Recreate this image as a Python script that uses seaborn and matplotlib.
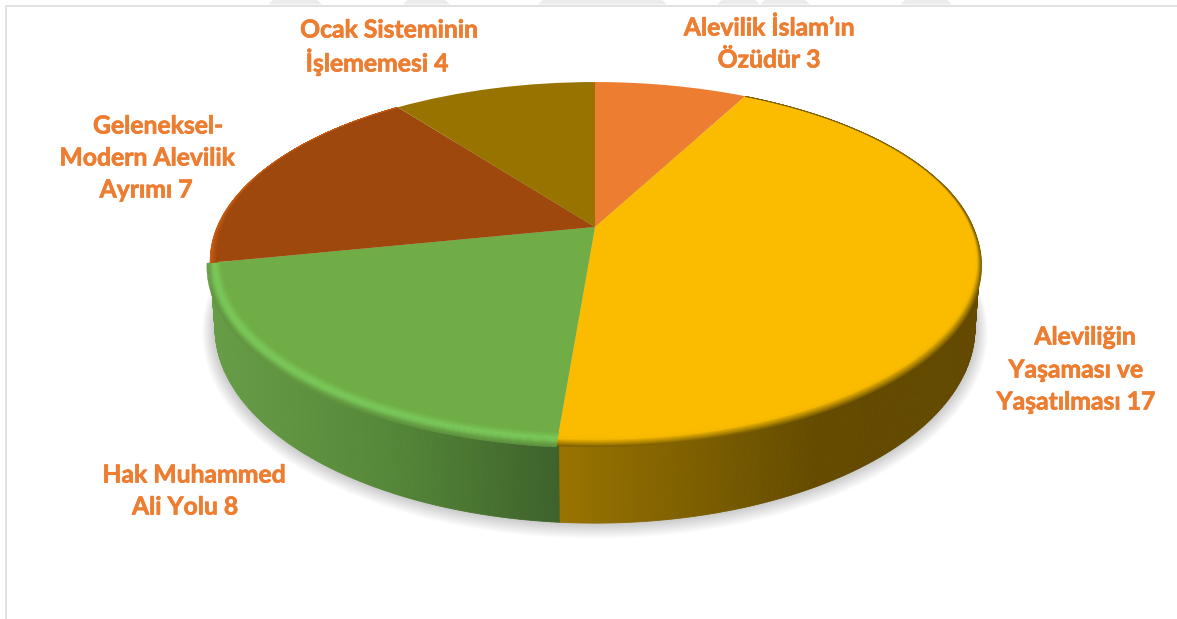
import numpy as np
import matplotlib
matplotlib.use("Agg")
import matplotlib.pyplot as plt
import matplotlib.patheffects as pe
import seaborn as sns
from matplotlib.colors import LinearSegmentedColormap, to_rgb
from matplotlib.transforms import Transform

names = ["Alevilik İslam’ın Özüdür", "Aleviliğin Yaşaması ve Yaşatılması",
         "Hak Muhammed Ali Yolu", "Geleneksel-Modern Alevilik Ayrımı",
         "Ocak Sisteminin İşlememesi"]
values = [3, 17, 8, 7, 4]
label_lines = [
    ["Alevilik İslam’ın", "Özüdür 3"],
    ["Aleviliğin", "Yaşaması ve", "Yaşatılması 17"],
    ["Hak Muhammed", "Ali Yolu 8"],
    ["Geleneksel-", "Modern Alevilik", "Ayrımı 7"],
    ["Ocak Sisteminin", "İşlememesi 4"],
]
label_pos = [
    [(769, 28), (769, 60)],
    [(1085, 337), (1076, 370), (1076, 402)],
    [(194, 475), (185, 507)],
    [(158, 126), (147, 158), (146, 190)],
    [(389, 30), (377, 62)],
]
colors = ["#ed7d31", "#fbbc00", "#70ad47", "#9e480e", "#997300"]


class Tilt(Transform):
    # unit pie -> image pixels, with the perspective of the 3d chart
    input_dims = 2
    output_dims = 2

    def __init__(self, x0, y0, ax_, by, c):
        super().__init__()
        self.p = (x0, y0, ax_, by, c)

    def transform_non_affine(self, values):
        x0, y0, a, b, c = self.p
        values = np.asarray(values, dtype=float)
        u, v = values[:, 0], values[:, 1]
        f = 1 / (1 + c * v)
        return np.column_stack([x0 + a * u * f, y0 - b * v * f])


sns.set_theme(style="white")
palette = sns.color_palette(colors)

fig = plt.figure(figsize=(11.77, 6.19), dpi=100)
ax = fig.add_axes([0, 0, 1, 1])

top = Tilt(595, 227, 378, 172.5, 0.19)
bottom = Tilt(595, 291, 373, 188, 0.19)

wedges, _ = ax.pie(values, colors=palette, startangle=90, counterclock=False, radius=1)
ax.set_aspect("auto")
ax.set_xlim(0, 1177)
ax.set_ylim(619, 0)
ax.axis("off")

top_tr = top + ax.transData
for w in wedges:
    w.set_transform(top_tr)
    w.set_zorder(5)
    w.set_linewidth(0)

# page frame and the watermark stripes above it
ax.fill_between([5, 1177], 4.5, 6.5, color="#e2e2e2", lw=0, zorder=1)
ax.fill_between([5, 7], 4.5, 619, color="#e2e2e2", lw=0, zorder=1)
for x1, x2 in [(268, 322), (403, 450), (538, 667), (717, 760), (760, 810), (900, 952)]:
    ax.fill([x1 + 5, x2 - 5, x2, x1], [0, 0, 4.5, 4.5], color="#ececec", lw=0, zorder=1)


def ring(theta):
    return np.cos(np.radians(theta)), np.sin(np.radians(theta))


# soft shadow under the body
th = np.linspace(0, 360, 241)
u, v = ring(th)
for k in np.linspace(1, 0, 14):
    xy = bottom.transform(np.column_stack([u, v]))
    cx = 595
    xs = cx + (xy[:, 0] - cx) * (1 + 0.034 * k)
    ys = 300 + (xy[:, 1] - 300) * (1 + 0.055 * k) + 3 * k
    ax.fill(xs, ys, color="black", alpha=0.016, lw=0, zorder=2)

# side wall, shaded left to right
wall_green = LinearSegmentedColormap.from_list(
    "g", [(0, "#679c47"), (0.5, "#558838"), (1, "#3e622b")])
wall_yellow = LinearSegmentedColormap.from_list(
    "y", [(0, "#9a7400"), (0.4, "#7d5f00"), (0.75, "#654b00"), (1, "#634a00")])
wall_style = {1: (wall_yellow, 557, 900), 2: (wall_green, 215, 557)}

for idx, (cmap, xa, xb) in wall_style.items():
    w = wedges[idx]
    t = np.arange(w.theta1, w.theta2 + 0.5, 0.5)
    t = t[np.sin(np.radians(t)) < 0.25]
    uu, vv = ring(t)
    a = top.transform(np.column_stack([uu, vv]))
    b = bottom.transform(np.column_stack([uu, vv]))
    for i in range(len(t) - 1):
        xm = a[i, 0]
        col = cmap(np.clip((xm - xa) / (xb - xa), 0, 1))
        ax.fill([a[i, 0], a[i + 1, 0], b[i + 1, 0], b[i, 0]],
                [a[i, 1], a[i + 1, 1], b[i + 1, 1], b[i, 1]],
                color=col, lw=0.6, zorder=3)


def mix(c1, c2, f):
    c1, c2 = np.array(to_rgb(c1)), np.array(to_rgb(c2))
    return tuple(c1 + (c2 - c1) * f)


def bevel(w, stops, w_in, w_out, back=1.0):
    # bands across the rim, they reach further out towards the viewer
    t = np.linspace(w.theta1, w.theta2, 200)
    uu, vv = ring(t)
    front = np.clip(-vv, 0, 1)
    fade = back + (1 - back) * np.clip(0.5 - 0.9 * vv, 0, 1)
    inner = 1 - w_in * fade
    outer = 1 + (w_out[0] + w_out[1] * front) * fade
    n = 16
    pos = [s[0] for s in stops]
    for j in range(n):
        f0, f1 = j / n, (j + 1) / n
        fm = (f0 + f1) / 2
        k = np.searchsorted(pos, fm) - 1
        k = min(max(k, 0), len(stops) - 2)
        col = mix(stops[k][1], stops[k + 1][1], (fm - pos[k]) / (pos[k + 1] - pos[k]))
        r0 = inner + (outer - inner) * f0
        r1 = inner + (outer - inner) * f1
        xs = np.r_[uu * r0, (uu * r1)[::-1]]
        ys = np.r_[vv * r0, (vv * r1)[::-1]]
        ax.fill(xs, ys, color=col, lw=0.3, zorder=6, transform=top_tr)


bevel(wedges[1], [(0, "#fbbc00"), (0.35, "#f6b800"), (0.8, "#a67e00"), (1, "#7a5c00")],
      0.016, (0, 0.026), back=0.35)
bevel(wedges[2], [(0, "#70ad47"), (0.4, "#7bc95a"), (0.6, "#79c558"), (0.85, "#68a046"), (1, "#5f9440")],
      0.028, (0.002, 0.028))
bevel(wedges[3], [(0, "#9e480e"), (0.6, "#b4530f"), (1, "#cc5c12")], 0.028, (0, 0), back=0.0)

for lines, spots in zip(label_lines, label_pos):
    for line, (x, y) in zip(lines, spots):
        ax.text(x, y, line, ha="center", va="center", color="#ed7d31",
                fontsize=17.8, fontweight="bold", family="Lato", zorder=8,
                path_effects=[pe.withStroke(linewidth=0.5, foreground="#ed7d31")])

fig.savefig("out.png", dpi=100, facecolor="white")
